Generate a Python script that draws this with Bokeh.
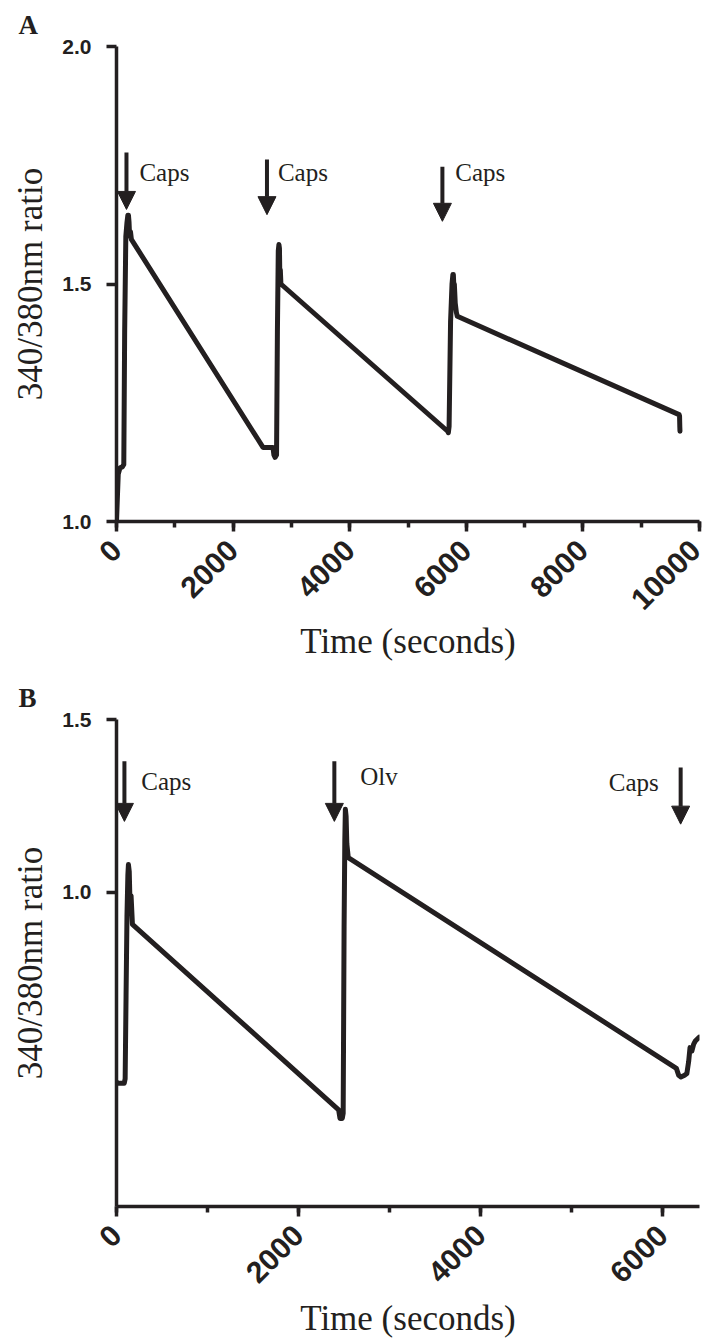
import math
from bokeh.plotting import figure
from bokeh.layouts import column
from bokeh.models import (Range1d, FixedTicker, SingleIntervalTicker, Arrow,
                          NormalHead, ColumnDataSource, PrintfTickFormatter)
from bokeh.core.properties import value
from bokeh.embed import file_html
from bokeh.resources import INLINE

# ---------------- data: panel A ----------------
a_time = [0, 30, 60, 100, 125, 140, 160, 180, 195, 205, 215, 225, 240, 255,
          2513, 2600, 2684, 2700, 2720, 2745, 2760, 2775, 2786, 2795, 2800, 2810, 2820,
          5680, 5692, 5705, 5730, 5755, 5770, 5778, 5788, 5795, 5810, 5830, 5846,
          9650, 9658, 9662, 9665]
a_ratio = [1.0, 1.10, 1.113, 1.115, 1.12, 1.40, 1.60, 1.63, 1.645, 1.645, 1.63, 1.60, 1.61, 1.594,
           1.156, 1.156, 1.156, 1.14, 1.135, 1.14, 1.40, 1.57, 1.583, 1.575, 1.53, 1.53, 1.50,
           1.19, 1.187, 1.20, 1.42, 1.50, 1.52, 1.52, 1.49, 1.50, 1.46, 1.44, 1.432,
           1.225, 1.222, 1.20, 1.19]
a_arrow_x = [171, 2581, 5590]
a_arrow_top = [1.777, 1.762, 1.747]
a_arrow_tip = [1.657, 1.646, 1.632]
a_label_x = [393, 2769, 5812]
a_label_y = [1.735, 1.735, 1.735]
a_labels = ["Caps", "Caps", "Caps"]
a_yticks = [1.0, 1.5, 2.0]

# ---------------- data: panel B ----------------
b_time = [0, 20, 85, 95, 105, 115, 125, 131, 140, 150, 160, 175,
          2440, 2455, 2480, 2490, 2500, 2508, 2514, 2522, 2530, 2538, 2546,
          6150, 6175, 6200, 6240, 6265, 6285, 6300, 6320, 6340, 6360, 6400]
b_ratio = [0.45, 0.447, 0.447, 0.46, 0.70, 0.93, 1.05, 1.08, 1.06, 0.95, 0.99, 0.907,
           0.37, 0.345, 0.345, 0.36, 0.90, 1.15, 1.24, 1.22, 1.14, 1.12, 1.10,
           0.49, 0.47, 0.465, 0.47, 0.475, 0.51, 0.55, 0.54, 0.56, 0.57, 0.58]
b_arrow_x = [87, 2393, 6197]
b_arrow_top = [1.379, 1.379, 1.361]
b_arrow_tip = [1.205, 1.205, 1.197]
b_label_x = [273, 2678]
b_label_y = [1.321, 1.335]
b_labels = ["Caps", "Olv"]
b_label_right_x = [5956]
b_label_right_y = [1.318]
b_labels_right = ["Caps"]
b_yticks = [1.0, 1.5]

INK = "#231f20"
SANS = "Liberation Sans"
SERIF = "Liberation Serif"


def style(p, letter, x_label_standoff):
    p.xgrid.visible = False
    p.ygrid.visible = False
    p.outline_line_color = None
    p.background_fill_color = "white"
    p.border_fill_color = "white"
    for ax in (p.xaxis[0], p.yaxis[0]):
        ax.axis_line_width = 3.5
        ax.axis_line_color = INK
        ax.major_tick_line_width = 3.5
        ax.major_tick_line_color = INK
        ax.major_tick_in = 0
        ax.major_tick_out = 10
        ax.minor_tick_line_width = 3.5
        ax.minor_tick_line_color = INK
        ax.minor_tick_in = 0
        ax.minor_tick_out = 6
        ax.major_label_text_font = SANS
        ax.major_label_text_font_style = "bold"
        ax.major_label_text_color = INK
        ax.axis_label_text_font = SERIF
        ax.axis_label_text_font_style = "normal"
        ax.axis_label_text_font_size = "35px"
        ax.axis_label_text_color = INK
    p.xaxis.major_label_text_font_size = "30px"
    p.yaxis.major_label_text_font_size = "21px"
    p.xaxis.major_label_orientation = math.pi / 4
    p.xaxis.major_label_standoff = 14
    p.yaxis.major_label_standoff = 15
    p.yaxis.formatter = PrintfTickFormatter(format="%.1f")
    p.xaxis.axis_label = "Time (seconds)"
    p.yaxis.axis_label = "340/380nm ratio"
    p.xaxis.axis_label_standoff = x_label_standoff
    p.yaxis.axis_label_standoff = 9
    p.title.text = letter
    p.title.text_font = SERIF
    p.title.text_font_style = "bold"
    p.title.text_font_size = "27px"
    p.title.text_color = INK
    p.title.align = "left"
    p.title.offset = -98
    p.title.standoff = 14


def add_marks(p, t, r, ax, atop, atip, lx, ly, lt, rx=None, ry=None, rt=None):
    p.line(t, r, line_width=5, line_color=INK, line_join="round", line_cap="round")
    src = ColumnDataSource(dict(x0=ax, y0=atop, x1=ax, y1=atip))
    p.add_layout(Arrow(x_start="x0", y_start="y0", x_end="x1", y_end="y1", source=src,
                       line_width=4, line_color=INK,
                       end=NormalHead(size=18, fill_color=INK, line_color=INK, line_width=1)))
    p.text(x=lx, y=ly, text=lt, text_font=value(SERIF), text_font_size="25px",
           text_color=INK, text_baseline="middle", text_align="left")
    if rx is not None:
        p.text(x=rx, y=ry, text=rt, text_font=value(SERIF), text_font_size="25px",
               text_color=INK, text_baseline="middle", text_align="right")


# ---------------- panel A ----------------
pa = figure(width=702, height=673, output_backend="svg", toolbar_location=None,
            x_range=Range1d(0, 10000), y_range=Range1d(1.0, 2.0),
            min_border_left=114, min_border_right=3, min_border_top=46, min_border_bottom=152)
style(pa, "A", 0)
pa.xaxis.ticker = SingleIntervalTicker(interval=2000, num_minor_ticks=2)
pa.yaxis.ticker = FixedTicker(ticks=a_yticks)
add_marks(pa, a_time, a_ratio, a_arrow_x, a_arrow_top, a_arrow_tip, a_label_x, a_label_y, a_labels)

# ---------------- panel B ----------------
pb = figure(width=702, height=667, output_backend="svg", toolbar_location=None,
            x_range=Range1d(0, 6404), y_range=Range1d(0.09, 1.5),
            min_border_left=116, min_border_right=0, min_border_top=46, min_border_bottom=134)
style(pb, "B", 4)
pb.xaxis.ticker = SingleIntervalTicker(interval=2000, num_minor_ticks=2)
pb.yaxis.ticker = FixedTicker(ticks=b_yticks)
add_marks(pb, b_time, b_ratio, b_arrow_x, b_arrow_top, b_arrow_tip, b_label_x, b_label_y, b_labels,
          b_label_right_x, b_label_right_y, b_labels_right)

layout = column(pa, pb, spacing=0)
open("out.html", "w").write(file_html(layout, INLINE))
